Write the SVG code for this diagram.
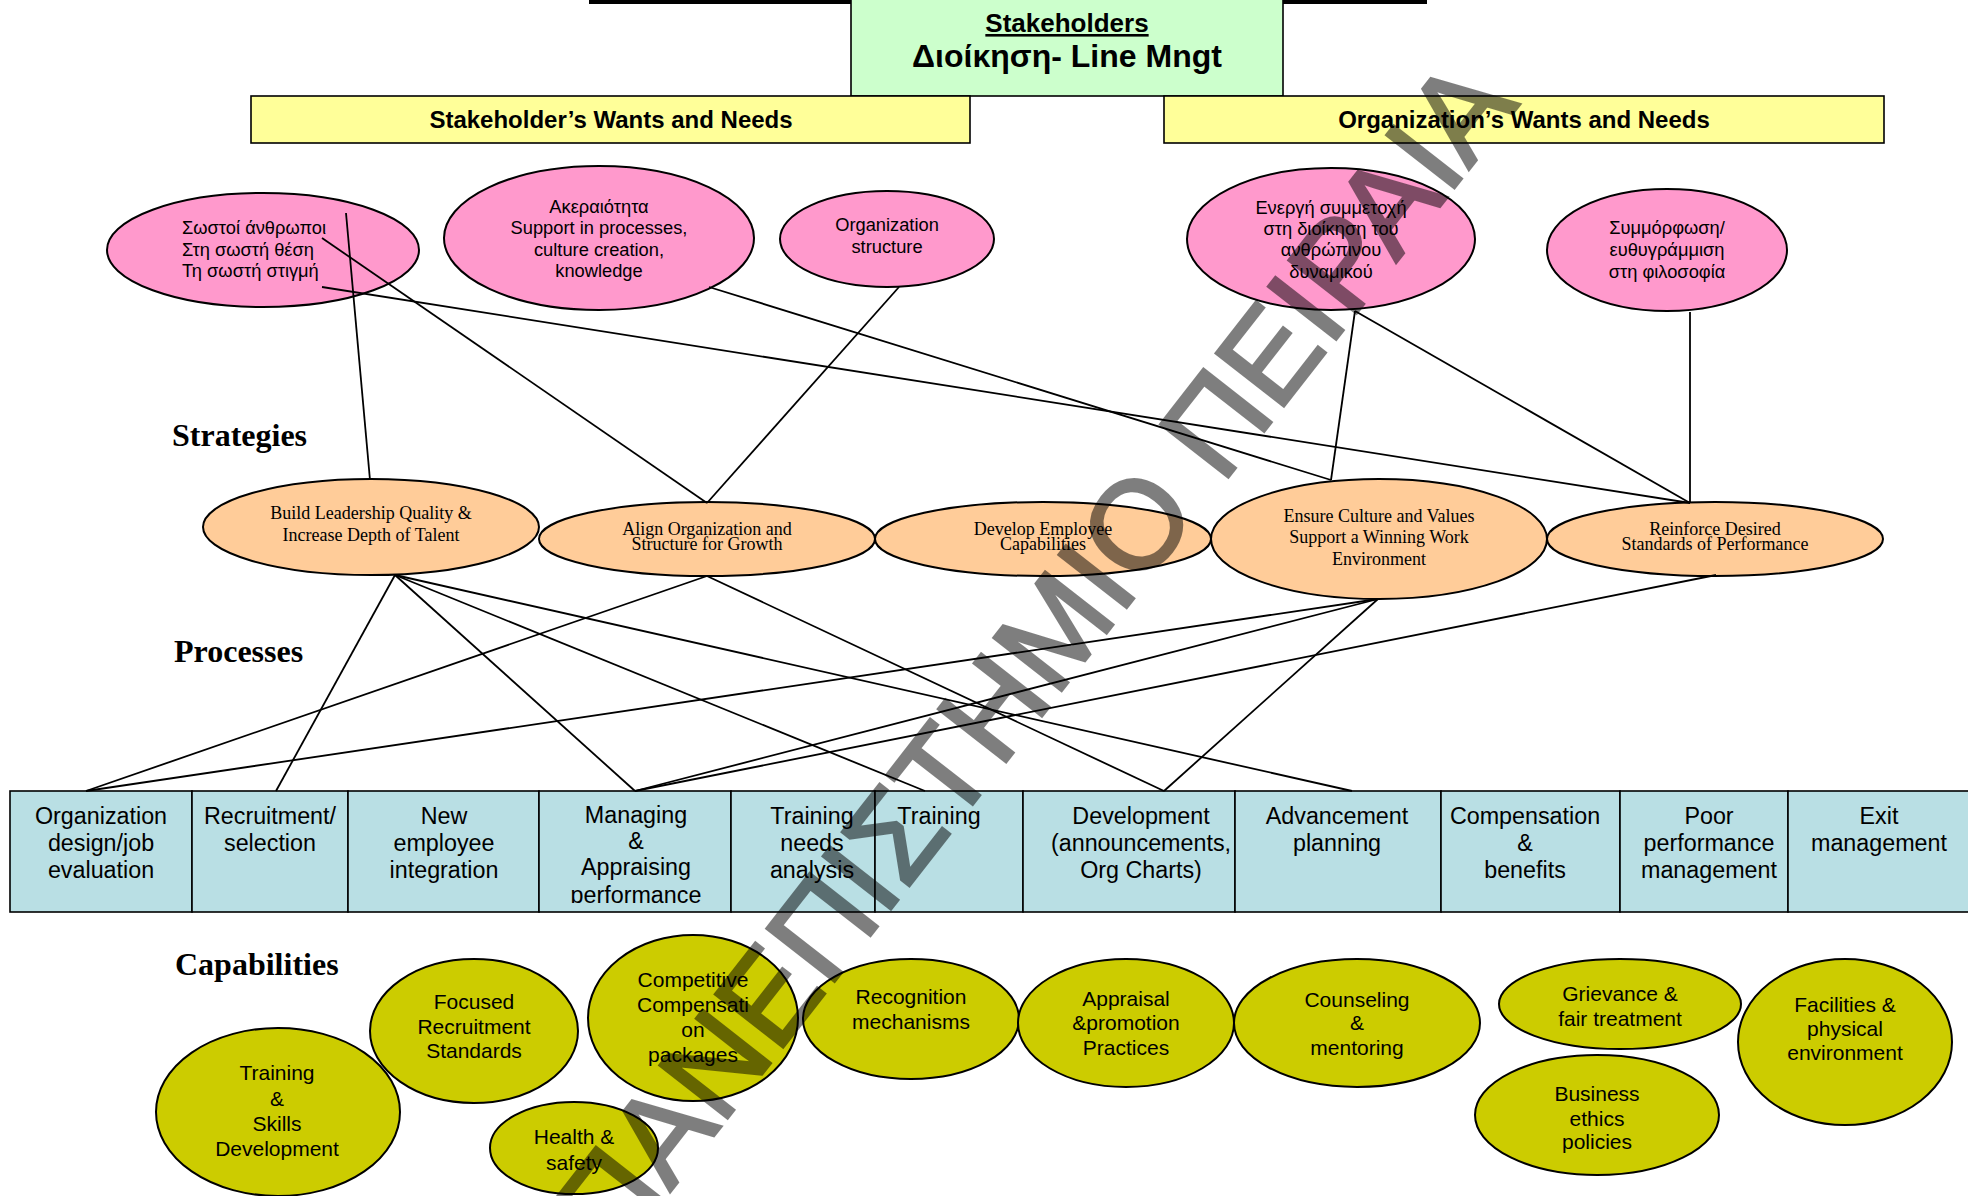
<svg xmlns="http://www.w3.org/2000/svg" width="1968" height="1196" viewBox="0 0 1968 1196">
  <style>
    .sans { font-family: "Liberation Sans", Arial, sans-serif; }
    .serif { font-family: "Liberation Serif", "Times New Roman", serif; }
    .box { stroke: #000; stroke-width: 1.6; }
    .green { fill: #CCFFCC; }
    .yellow { fill: #FFFF99; }
    .pink { fill: #FF99CC; stroke: #000; stroke-width: 2; }
    .orange { fill: #FFCC99; stroke: #000; stroke-width: 2; }
    .proc { fill: #B9DFE4; stroke: #000; stroke-width: 1.6; }
    .olive { fill: #CCCC00; stroke: #000; stroke-width: 2; }
    .t-pink { font-size: 18.3px; fill: #000; }
    .t-strat { font-size: 18px; fill: #000; }
    .t-proc { font-size: 23.3px; fill: #000; }
    .t-cap { font-size: 21px; fill: #000; }
    .head { font-size: 32px; font-weight: bold; fill: #000; }
    .links line { stroke: #000; stroke-width: 1.8; fill: none; }
  </style>

  <defs>
    <clipPath id="clip-appraising">
      <rect x="539" y="791" width="192" height="112"/>
    </clipPath>
  </defs>

  <rect width="1968" height="1196" fill="#FFFFFF"/>

  <!-- top rule -->
  <rect x="589" y="0" width="838" height="4" fill="#000"/>

  <!-- stakeholder header -->
  <g id="stakeholders">
    <rect class="box green" x="851" y="-2" width="432" height="98"/>
    <text class="sans" x="1067" y="32" text-anchor="middle" font-size="26" font-weight="bold" text-decoration="underline">Stakeholders</text>
    <text class="sans" x="1067" y="67" text-anchor="middle" font-size="32" font-weight="bold">Διοίκηση- Line Mngt</text>
  </g>

  <g id="stakeholder-wants">
    <rect class="box yellow" x="251" y="96" width="719" height="47"/>
    <text class="sans" x="611" y="128" text-anchor="middle" font-size="24" font-weight="bold">Stakeholder’s Wants and Needs</text>
  </g>
  <g id="organization-wants">
    <rect class="box yellow" x="1164" y="96" width="720" height="47"/>
    <text class="sans" x="1524" y="128" text-anchor="middle" font-size="24" font-weight="bold">Organization’s Wants and Needs</text>
  </g>

  <!-- wants and needs -->
  <g id="need-right-people">
    <ellipse class="pink" cx="263" cy="250" rx="156" ry="57"/>
    <text class="sans t-pink" x="182"><tspan x="182" y="234">Σωστοί άνθρωποι</tspan><tspan x="182" y="256">Στη σωστή θέση</tspan><tspan x="182" y="277">Τη σωστή στιγμή</tspan></text>
  </g>
  <g id="need-integrity">
    <ellipse class="pink" cx="599" cy="238" rx="155" ry="72"/>
    <text class="sans t-pink" text-anchor="middle"><tspan x="599" y="213">Ακεραιότητα</tspan><tspan x="599" y="234">Support in processes,</tspan><tspan x="599" y="256">culture creation,</tspan><tspan x="599" y="277">knowledge</tspan></text>
  </g>
  <g id="need-org-structure">
    <ellipse class="pink" cx="887" cy="239" rx="107" ry="48"/>
    <text class="sans t-pink" text-anchor="middle"><tspan x="887" y="231">Organization</tspan><tspan x="887" y="253">structure</tspan></text>
  </g>
  <g id="need-participation">
    <ellipse class="pink" cx="1331" cy="239" rx="144" ry="71"/>
    <text class="sans t-pink" text-anchor="middle"><tspan x="1331" y="214">Ενεργή συμμετοχή</tspan><tspan x="1331" y="235">στη διοίκηση του</tspan><tspan x="1331" y="256">ανθρώπινου</tspan><tspan x="1331" y="278">δυναμικού</tspan></text>
  </g>
  <g id="need-alignment">
    <ellipse class="pink" cx="1667" cy="250" rx="120" ry="61"/>
    <text class="sans t-pink" text-anchor="middle"><tspan x="1667" y="234">Συμμόρφωση/</tspan><tspan x="1667" y="256">ευθυγράμμιση</tspan><tspan x="1667" y="278">στη φιλοσοφία</tspan></text>
  </g>

  <!-- section headings -->
  <text class="serif head" x="172" y="446">Strategies</text>
  <text class="serif head" x="174" y="662">Processes</text>
  <text class="serif head" x="175" y="975">Capabilities</text>

  <!-- strategies -->
  <g id="strategy-leadership">
    <ellipse class="orange" cx="371" cy="527" rx="168" ry="48"/>
    <text class="serif t-strat" text-anchor="middle"><tspan x="371" y="519">Build Leadership Quality &amp;</tspan><tspan x="371" y="541">Increase Depth of Talent</tspan></text>
  </g>
  <g id="strategy-align">
    <ellipse class="orange" cx="707" cy="539" rx="168" ry="37"/>
    <text class="serif t-strat" text-anchor="middle"><tspan x="707" y="535">Align Organization and</tspan><tspan x="707" y="550">Structure for Growth</tspan></text>
  </g>
  <g id="strategy-develop">
    <ellipse class="orange" cx="1043" cy="539" rx="168" ry="37"/>
    <text class="serif t-strat" text-anchor="middle"><tspan x="1043" y="535">Develop Employee</tspan><tspan x="1043" y="550">Capabilities</tspan></text>
  </g>
  <g id="strategy-culture">
    <ellipse class="orange" cx="1379" cy="539" rx="168" ry="60"/>
    <text class="serif t-strat" text-anchor="middle"><tspan x="1379" y="522">Ensure Culture and Values</tspan><tspan x="1379" y="543">Support a Winning Work</tspan><tspan x="1379" y="565">Environment</tspan></text>
  </g>
  <g id="strategy-standards">
    <ellipse class="orange" cx="1715" cy="539" rx="168" ry="37"/>
    <text class="serif t-strat" text-anchor="middle"><tspan x="1715" y="535">Reinforce Desired</tspan><tspan x="1715" y="550">Standards of Performance</tspan></text>
  </g>

  <!-- processes -->
  <g id="proc-org-design">
    <rect class="proc" x="10" y="791" width="182" height="121"/>
    <text class="sans t-proc" text-anchor="middle"><tspan x="101" y="824">Organization</tspan><tspan x="101" y="851">design/job</tspan><tspan x="101" y="878">evaluation</tspan></text>
  </g>
  <g id="proc-recruitment">
    <rect class="proc" x="192" y="791" width="156" height="121"/>
    <text class="sans t-proc" text-anchor="middle"><tspan x="270" y="824">Recruitment/</tspan><tspan x="270" y="851">selection</tspan></text>
  </g>
  <g id="proc-integration">
    <rect class="proc" x="348" y="791" width="191" height="121"/>
    <text class="sans t-proc" text-anchor="middle"><tspan x="444" y="824">New</tspan><tspan x="444" y="851">employee</tspan><tspan x="444" y="878">integration</tspan></text>
  </g>
  <g id="proc-appraising">
    <rect class="proc" x="539" y="791" width="192" height="121"/>
    <text class="sans t-proc" text-anchor="middle" clip-path="url(#clip-appraising)"><tspan x="636" y="823">Managing</tspan><tspan x="636" y="849">&amp;</tspan><tspan x="636" y="875">Appraising</tspan><tspan x="636" y="903">performance</tspan></text>
  </g>
  <g id="proc-training-needs">
    <rect class="proc" x="731" y="791" width="144" height="121"/>
    <text class="sans t-proc" text-anchor="middle"><tspan x="812" y="824">Training</tspan><tspan x="812" y="851">needs</tspan><tspan x="812" y="878">analysis</tspan></text>
  </g>
  <g id="proc-training">
    <rect class="proc" x="875" y="791" width="148" height="121"/>
    <text class="sans t-proc" text-anchor="middle"><tspan x="939" y="824">Training</tspan></text>
  </g>
  <g id="proc-development">
    <rect class="proc" x="1023" y="791" width="212" height="121"/>
    <text class="sans t-proc" text-anchor="middle"><tspan x="1141" y="824">Development</tspan><tspan x="1141" y="851">(announcements,</tspan><tspan x="1141" y="878">Org Charts)</tspan></text>
  </g>
  <g id="proc-advancement">
    <rect class="proc" x="1235" y="791" width="206" height="121"/>
    <text class="sans t-proc" text-anchor="middle"><tspan x="1337" y="824">Advancement</tspan><tspan x="1337" y="851">planning</tspan></text>
  </g>
  <g id="proc-compensation">
    <rect class="proc" x="1441" y="791" width="179" height="121"/>
    <text class="sans t-proc" text-anchor="middle"><tspan x="1525" y="824">Compensation</tspan><tspan x="1525" y="851">&amp;</tspan><tspan x="1525" y="878">benefits</tspan></text>
  </g>
  <g id="proc-poor-performance">
    <rect class="proc" x="1620" y="791" width="168" height="121"/>
    <text class="sans t-proc" text-anchor="middle"><tspan x="1709" y="824">Poor</tspan><tspan x="1709" y="851">performance</tspan><tspan x="1709" y="878">management</tspan></text>
  </g>
  <g id="proc-exit">
    <rect class="proc" x="1788" y="791" width="190" height="121"/>
    <text class="sans t-proc" text-anchor="middle"><tspan x="1879" y="824">Exit</tspan><tspan x="1879" y="851">management</tspan></text>
  </g>

  <!-- capabilities -->
  <g id="cap-training-skills">
    <ellipse class="olive" cx="278" cy="1112" rx="122" ry="84"/>
    <text class="sans t-cap" text-anchor="middle"><tspan x="277" y="1080">Training</tspan><tspan x="277" y="1106">&amp;</tspan><tspan x="277" y="1131">Skills</tspan><tspan x="277" y="1156">Development</tspan></text>
  </g>
  <g id="cap-recruitment-standards">
    <ellipse class="olive" cx="474" cy="1031" rx="104" ry="72"/>
    <text class="sans t-cap" text-anchor="middle"><tspan x="474" y="1009">Focused</tspan><tspan x="474" y="1034">Recruitment</tspan><tspan x="474" y="1058">Standards</tspan></text>
  </g>
  <g id="cap-compensation">
    <ellipse class="olive" cx="693" cy="1018" rx="105" ry="83"/>
    <text class="sans t-cap" text-anchor="middle"><tspan x="693" y="987">Competitive</tspan><tspan x="693" y="1012">Compensati</tspan><tspan x="693" y="1037">on</tspan><tspan x="693" y="1062">packages</tspan></text>
  </g>
  <g id="cap-recognition">
    <ellipse class="olive" cx="911" cy="1019" rx="108" ry="60"/>
    <text class="sans t-cap" text-anchor="middle"><tspan x="911" y="1004">Recognition</tspan><tspan x="911" y="1029">mechanisms</tspan></text>
  </g>
  <g id="cap-health-safety">
    <ellipse class="olive" cx="574" cy="1148" rx="84" ry="46"/>
    <text class="sans t-cap" text-anchor="middle"><tspan x="574" y="1144">Health &amp;</tspan><tspan x="574" y="1170">safety</tspan></text>
  </g>
  <g id="cap-appraisal">
    <ellipse class="olive" cx="1126" cy="1023" rx="108" ry="64"/>
    <text class="sans t-cap" text-anchor="middle"><tspan x="1126" y="1006">Appraisal</tspan><tspan x="1126" y="1030">&amp;promotion</tspan><tspan x="1126" y="1055">Practices</tspan></text>
  </g>
  <g id="cap-counseling">
    <ellipse class="olive" cx="1357" cy="1023" rx="123" ry="64"/>
    <text class="sans t-cap" text-anchor="middle"><tspan x="1357" y="1007">Counseling</tspan><tspan x="1357" y="1030">&amp;</tspan><tspan x="1357" y="1055">mentoring</tspan></text>
  </g>
  <g id="cap-grievance">
    <ellipse class="olive" cx="1620" cy="1004" rx="121" ry="45"/>
    <text class="sans t-cap" text-anchor="middle"><tspan x="1620" y="1001">Grievance &amp;</tspan><tspan x="1620" y="1026">fair treatment</tspan></text>
  </g>
  <g id="cap-ethics">
    <ellipse class="olive" cx="1597" cy="1115" rx="122" ry="60"/>
    <text class="sans t-cap" text-anchor="middle"><tspan x="1597" y="1101">Business</tspan><tspan x="1597" y="1126">ethics</tspan><tspan x="1597" y="1149">policies</tspan></text>
  </g>
  <g id="cap-facilities">
    <ellipse class="olive" cx="1845" cy="1042" rx="107" ry="83"/>
    <text class="sans t-cap" text-anchor="middle"><tspan x="1845" y="1012">Facilities &amp;</tspan><tspan x="1845" y="1036">physical</tspan><tspan x="1845" y="1060">environment</tspan></text>
  </g>

  <!-- connectors -->
  <g id="connectors" class="links">
    <!-- needs to strategies -->
    <line x1="346" y1="213" x2="370" y2="480"/>
    <line x1="322" y1="238" x2="707" y2="503"/>
    <line x1="322" y1="287" x2="1690" y2="503"/>
    <line x1="709" y1="287" x2="1331" y2="480"/>
    <line x1="899" y1="287" x2="707" y2="503"/>
    <line x1="1355" y1="311" x2="1331" y2="480"/>
    <line x1="1355" y1="311" x2="1690" y2="503"/>
    <line x1="1690" y1="312" x2="1690" y2="503"/>
    <!-- strategies to processes -->
    <line x1="395" y1="575" x2="276" y2="791"/>
    <line x1="395" y1="575" x2="635" y2="791"/>
    <line x1="395" y1="575" x2="925" y2="791"/>
    <line x1="395" y1="575" x2="1352" y2="791"/>
    <line x1="707" y1="576" x2="86" y2="791"/>
    <line x1="707" y1="576" x2="1164" y2="791"/>
    <line x1="1378" y1="599" x2="86" y2="791"/>
    <line x1="1378" y1="599" x2="635" y2="791"/>
    <line x1="1378" y1="599" x2="1164" y2="791"/>
    <line x1="1716" y1="575" x2="635" y2="791"/>
  </g>

  <!-- diagonal watermark, half-transparent so the shapes show through -->
  <g opacity="0.5">
    <text class="sans" transform="translate(1520,104) rotate(-52)" text-anchor="end" font-size="125" fill="#000" stroke="#000" stroke-width="3">ΠΑΝΕΠΙΣΤΗΜΙΟ ΠΕΙΡΑΙΑ</text>
  </g>
</svg>
